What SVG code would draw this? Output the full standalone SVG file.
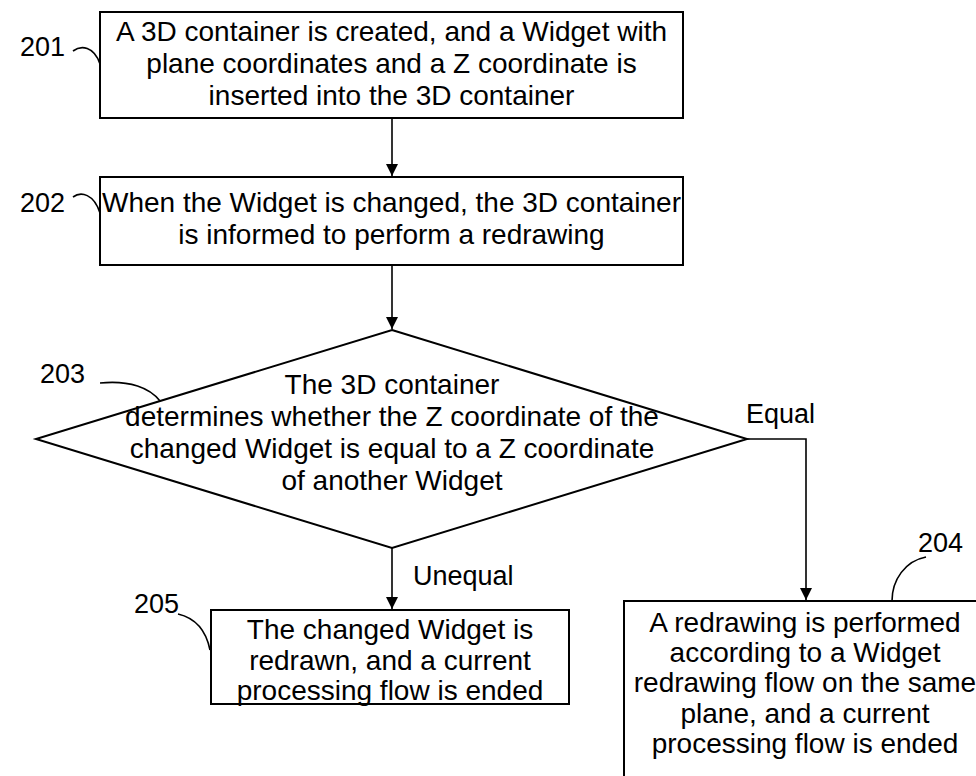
<svg xmlns="http://www.w3.org/2000/svg" width="976" height="776" viewBox="0 0 976 776">
<defs>
<style>
.box{fill:#fff;stroke:#000;stroke-width:2}
.t{font-family:"Liberation Sans",Arial,sans-serif;font-size:28px;fill:#000;text-anchor:middle}
.l{font-family:"Liberation Sans",Arial,sans-serif;font-size:27px;fill:#000}
.c{fill:none;stroke:#000;stroke-width:1.6}
.lead{fill:none;stroke:#000;stroke-width:1.6}
</style>
<marker id="ah" markerWidth="12" markerHeight="12" refX="12" refY="6" orient="auto" markerUnits="userSpaceOnUse">
<path d="M0,0 L12,6 L0,12 Z" fill="#000"/>
</marker>
</defs>
<rect width="976" height="776" fill="#fff"/>
<g id="connectors">
<path class="c" d="M392,118 V176" marker-end="url(#ah)"/>
<path class="c" d="M392,265 V329" marker-end="url(#ah)"/>
<path class="c" d="M392,548 V609" marker-end="url(#ah)"/>
<path class="c" d="M747,439 H806 V600" marker-end="url(#ah)"/>
<text class="l" x="746" y="423">Equal</text>
<text class="l" x="413" y="585">Unequal</text>
</g>
<g id="n201">
<rect class="box" x="100" y="12" width="583" height="106"/>
<text class="t" x="391.5" y="41">A 3D container is created, and a Widget with</text>
<text class="t" x="391.5" y="73">plane coordinates and a Z coordinate is</text>
<text class="t" x="391.5" y="105">inserted into the 3D container</text>
<text class="l" x="20" y="56">201</text>
<path class="lead" d="M73,51 C81,45 94,46 100,64"/>
</g>
<g id="n202">
<rect class="box" x="100" y="177" width="583" height="88"/>
<text class="t" x="391.5" y="212">When the Widget is changed, the 3D container</text>
<text class="t" x="391.5" y="244">is informed to perform a redrawing</text>
<text class="l" x="20" y="212">202</text>
<path class="lead" d="M73,197 C81,191 94,194 100,213"/>
</g>
<g id="n203">
<path class="box" d="M392,330 L747,439 L392,548 L36,439 Z"/>
<text class="t" x="392" y="394">The 3D container</text>
<text class="t" x="392" y="426">determines whether the Z coordinate of the</text>
<text class="t" x="392" y="458">changed Widget is equal to a Z coordinate</text>
<text class="t" x="392" y="490">of another Widget</text>
<text class="l" x="40" y="383">203</text>
<path class="lead" d="M100,383 C130,380 150,388 160,401"/>
</g>
<g id="n205">
<rect class="box" x="211" y="610" width="358" height="94"/>
<text class="t" x="390" y="639">The changed Widget is</text>
<text class="t" x="390" y="670">redrawn, and a current</text>
<text class="t" x="390" y="700">processing flow is ended</text>
<text class="l" x="134" y="613">205</text>
<path class="lead" d="M178,614 C195,618 206,630 210,650"/>
</g>
<g id="n204">
<rect class="box" x="624" y="601" width="362" height="190"/>
<text class="t" x="805" y="632">A redrawing is performed</text>
<text class="t" x="805" y="662">according to a Widget</text>
<text class="t" x="805" y="692">redrawing flow on the same</text>
<text class="t" x="805" y="723">plane, and a current</text>
<text class="t" x="805" y="753">processing flow is ended</text>
<text class="l" x="918" y="552">204</text>
<path class="lead" d="M892,601 C892,580 905,561 926,557"/>
</g>
</svg>
